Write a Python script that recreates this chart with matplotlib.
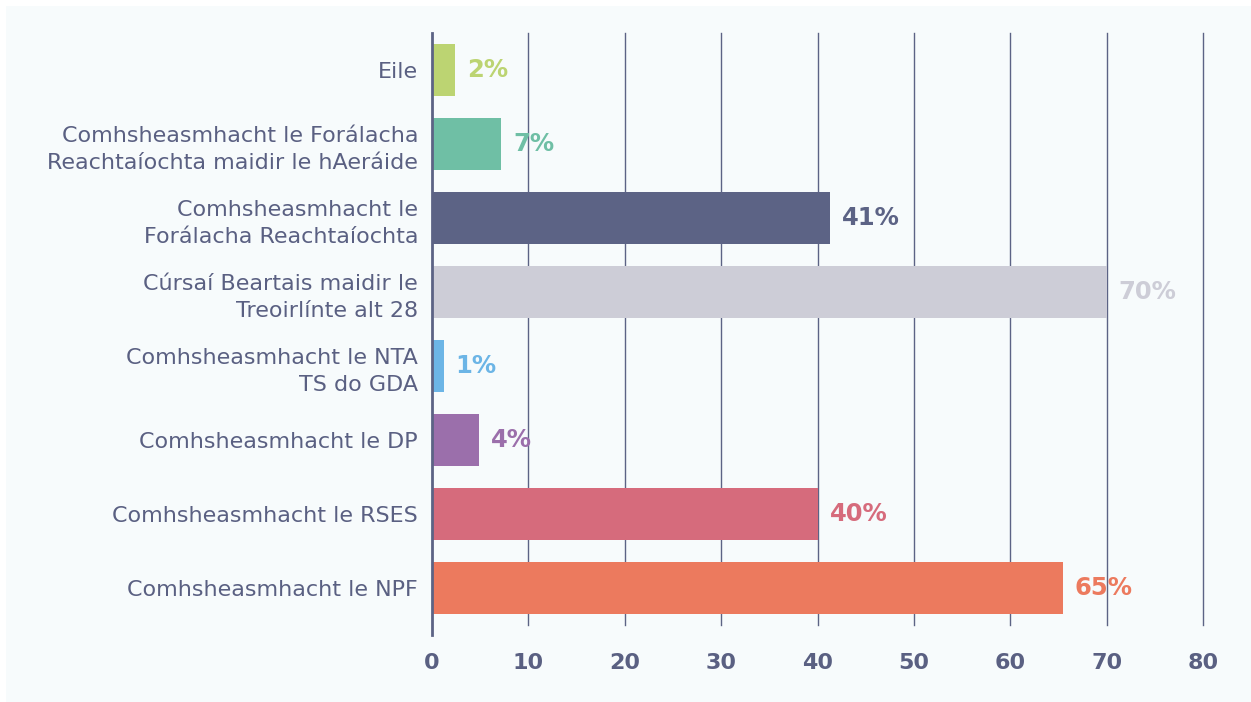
import matplotlib.pyplot as plt
from matplotlib.patches import Rectangle

# data, top to bottom as drawn
categories = ['Eile',
              'Comhsheasmhacht le Forálacha\nReachtaíochta maidir le hAeráide',
              'Comhsheasmhacht le\nForálacha Reachtaíochta',
              'Cúrsaí Beartais maidir le\nTreoirlínte alt 28',
              'Comhsheasmhacht le NTA\nTS do GDA',
              'Comhsheasmhacht le DP',
              'Comhsheasmhacht le RSES',
              'Comhsheasmhacht le NPF']
values = [2.4, 7.2, 41.3, 70.0, 1.2, 4.9, 40.1, 65.5]
value_labels = ['2%', '7%', '41%', '70%', '1%', '4%', '40%', '65%']
colors = ['#bcd472', '#6fbfa5', '#5c6385', '#cdcdd7', '#6cb5e6', '#9b6fab', '#d66b7c', '#ec7a5e']
xticks = [0, 10, 20, 30, 40, 50, 60, 70, 80]

txt = '#5a6082'
grid = '#5c6385'
plt.rcParams['font.family'] = ['DejaVu Sans']

fig = plt.figure(figsize=(12.51, 7.02), dpi=100)
fig.patch.set_facecolor('white')
fig.patches.append(Rectangle((6 / 1251, 0), 1, 1 - 6 / 702, transform=fig.transFigure,
                             facecolor='#f7fbfc', edgecolor='none', zorder=-10))

ax = fig.add_axes([432 / 1251, 1 - 625 / 702, 771 / 1251, 592 / 702])
ax.set_facecolor('none')

pos = list(range(len(categories)))
ax.barh(pos, values, height=0.7, color=colors, zorder=2)
for i in pos:
    ax.text(values[i] + 1.2, i, value_labels[i], va='center', ha='left',
            fontsize=17.5, fontweight='bold', color=colors[i], zorder=3)

ax.set_ylim(7.5, -0.5)
ax.set_xlim(0, 80)
ax.set_xticks(xticks)
ax.set_yticks(pos)
ax.set_yticklabels(categories, fontsize=16, color=txt, linespacing=1.45)
ax.tick_params(axis='y', length=0, pad=10)
ax.tick_params(axis='x', length=0, pad=20, labelsize=16, labelcolor=txt)
for lab in ax.get_xticklabels():
    lab.set_fontweight('bold')

for x in xticks[1:]:
    ax.axvline(x, color=grid, linewidth=1, zorder=1, clip_on=False)

for s in ['top', 'right', 'bottom']:
    ax.spines[s].set_visible(False)
ax.spines['left'].set_color(grid)
ax.spines['left'].set_linewidth(2)
ax.spines['left'].set_bounds(7.64, -0.5)
ax.spines['left'].set_zorder(4)

fig.savefig('out.png', dpi=100)
